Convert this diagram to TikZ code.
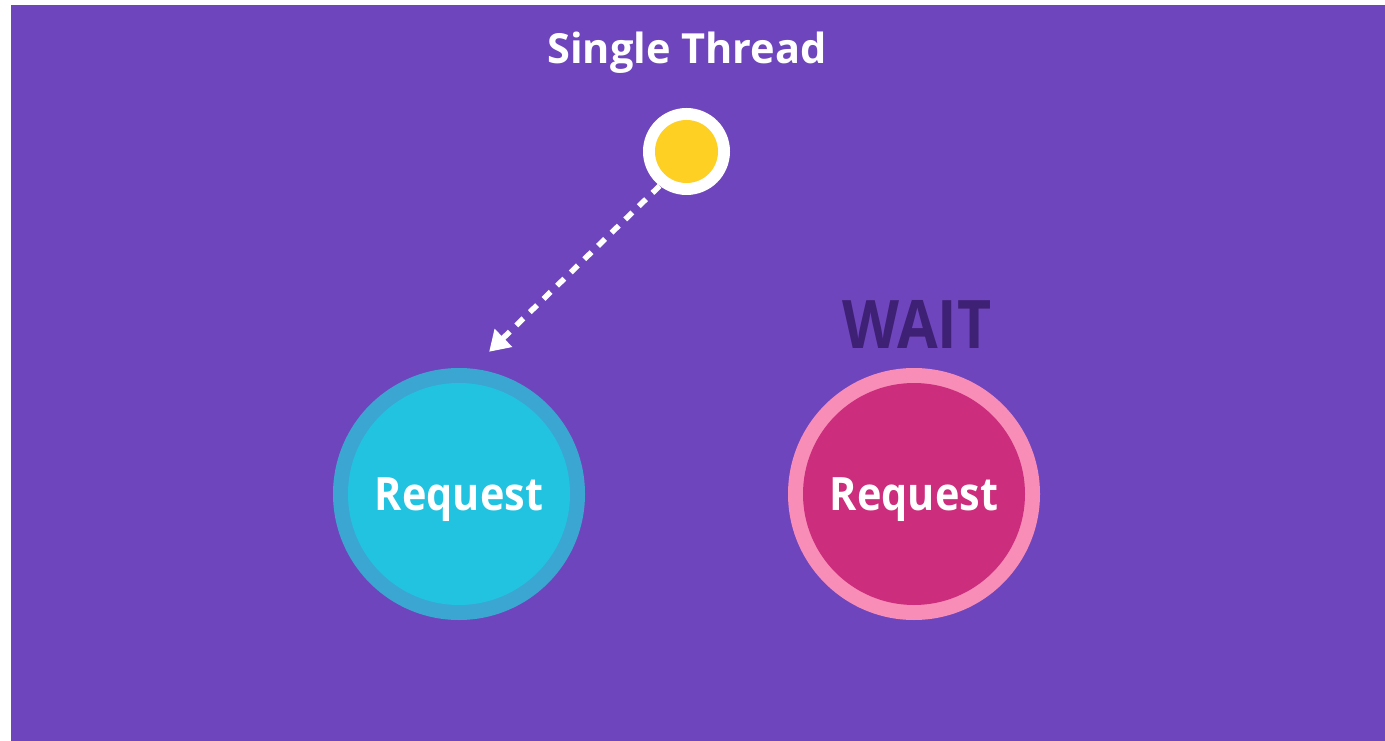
\documentclass[tikz,border=0pt]{standalone}
\usepackage{fontspec}
\setmainfont{Open Sans}
\usetikzlibrary{arrows.meta}
\definecolor{bgpurple}{HTML}{6F45BD}
\definecolor{threadyellow}{HTML}{FDD023}
\definecolor{cyanring}{HTML}{3BA6D2}
\definecolor{cyanfill}{HTML}{22C3E1}
\definecolor{pinkring}{HTML}{F88DB8}
\definecolor{pinkfill}{HTML}{CC2D7C}
\definecolor{waitcol}{HTML}{3E2075}
\tikzset{
  lbl/.style={font=\bfseries, text=white, inner sep=0pt, anchor=base},
  reqtext/.style={lbl, font=\bfseries\fontsize{46}{52}\selectfont},
  reqcircle/.style={circle, minimum size=#1, inner sep=0pt},
  flow/.style={draw=white, line width=5.5pt, dash pattern=on 10pt off 9pt,
    -{Triangle[length=20pt,width=24pt]}, shorten >=-4pt}
}
\begin{document}
\begin{tikzpicture}[x=1pt,y=-1pt]
\useasboundingbox (0,0) rectangle (1385,741);
\fill[white] (0,0) rectangle (1385,741);
\fill[bgpurple] (11,5) rectangle (1385,741);
% title
\node[lbl, font=\bfseries\fontsize{41.5}{46}\selectfont] (title) at (687,64) {Single Thread};
% thread
\node[circle, fill=white, minimum size=87pt, inner sep=0pt] (thread) at (686.5,151.5) {};
\node[circle, fill=threadyellow, minimum size=63pt, inner sep=0pt] (threadcore) at (thread.center) {};
% requests
\node[reqcircle=252pt, fill=cyanring] (req1) at (459,494) {};
\node[reqcircle=222pt, fill=cyanfill] (req1in) at (req1.center) {};
\node[reqtext] (req1txt) at (459,510) {\scalebox{0.9}[1]{Request}};
\node[reqcircle=252pt, fill=pinkring] (req2) at (914,494) {};
\node[reqcircle=222pt, fill=pinkfill] (req2in) at (req2.center) {};
\node[reqtext] (req2txt) at (914,510) {\scalebox{0.9}[1]{Request}};
% wait
\node[font=\bfseries\fontsize{67}{74}\selectfont, text=waitcol, inner sep=0pt, anchor=base] (wait) at (917,348) {\scalebox{0.88}[1]{WAIT}};
% arrow
\coordinate (tip) at (492,349);
\draw[flow] (thread.232) -- (tip);
\end{tikzpicture}
\end{document}
